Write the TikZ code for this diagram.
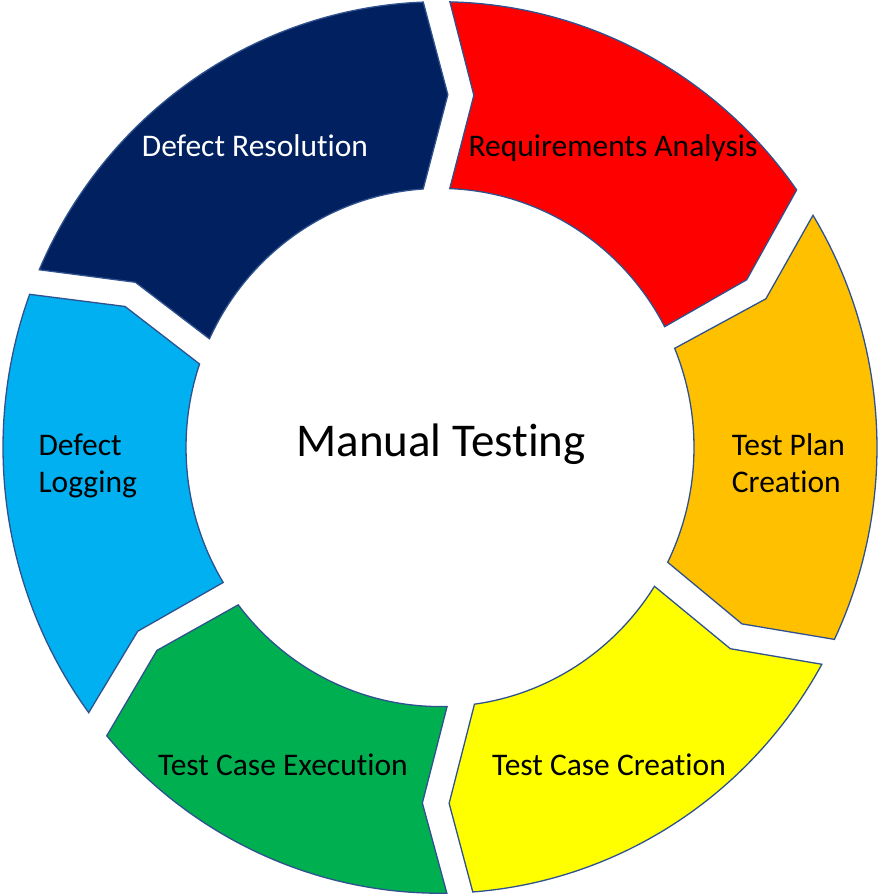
\documentclass[tikz,border=0pt]{standalone}
\usepackage{fontspec}
\setmainfont{Carlito}[Ligatures={NoCommon}]
\definecolor{cNavy}{HTML}{002060}
\definecolor{cRed}{HTML}{FF0000}
\definecolor{cOrange}{HTML}{FFC000}
\definecolor{cYellow}{HTML}{FFFF00}
\definecolor{cGreen}{HTML}{00B050}
\definecolor{cSky}{HTML}{00B0F0}
\definecolor{cEdge}{HTML}{2F528F}
\begin{document}
\begin{tikzpicture}[x=1pt,y=1pt,
  seg/.style={draw=cEdge, line width=1.3pt, line join=miter},
  lbl/.style={font=\fontsize{31.5}{37}\selectfont, inner sep=0pt, text=black},
  title/.style={font=\fontsize{47}{51}\selectfont, inner sep=0pt, text=black}]
\useasboundingbox (0,0) rectangle (878,896);
\begin{scope}[shift={(440,448.5)}, yscale=1.02]
  % Requirements Analysis
  \path[seg, fill=cRed] (88.7:437) arc[start angle=88.7, end angle=35.3, radius=437]
    -- (28.2:348) -- (27.8:254) arc[start angle=27.8, end angle=87.8, radius=254]
    -- (84.4:347) -- cycle;
  % Test Plan Creation
  \path[seg, fill=cOrange] (31.4:437) arc[start angle=31.4, end angle=-25.5, radius=437]
    -- (-29.8:348) -- (-26.3:254) arc[start angle=-26.3, end angle=22.5, radius=254]
    -- (24.1:357) -- cycle;
  % Test Case Creation
  \path[seg, fill=cYellow] (-29.1:437) arc[start angle=-29.1, end angle=-85.7, radius=437]
    -- (-88.5:349) -- (-82.2:254) arc[start angle=-82.2, end angle=-32.4, radius=254]
    -- (-34.2:351) -- cycle;
  % Test Case Execution
  \path[seg, fill=cGreen] (-89.1:437) arc[start angle=-89.1, end angle=-139.7, radius=437]
    -- (-144.9:346) -- (-142.6:254) arc[start angle=-142.6, end angle=-88.4, radius=254]
    -- (-92.9:349) -- cycle;
  % Defect Logging
  \path[seg, fill=cSky] (216.5:437) arc[start angle=216.5, end angle=159.9, radius=437]
    -- (156.3:344) -- (161.2:254) arc[start angle=161.2, end angle=211.4, radius=254]
    -- (210.8:352) -- cycle;
  % Defect Resolution
  \path[seg, fill=cNavy] (156.5:437) arc[start angle=156.5, end angle=92.2, radius=437]
    -- (88.7:346) -- (93.8:254) arc[start angle=93.8, end angle=155.2, radius=254]
    -- (152:345) -- cycle;
\end{scope}
\node[lbl, text=white, anchor=base] (res) at (255,739) {Defect Resolution};
\node[lbl, anchor=base] (req) at (613,739.3) {Requirements Analysis};
\node[lbl, anchor=base west, align=left] (plan) at (731.7,403.3) {Test Plan\\Creation};
\node[lbl, anchor=base] (cre) at (609,120) {Test Case Creation};
\node[lbl, anchor=base] (exe) at (283,120) {Test Case Execution};
\node[lbl, anchor=base west, align=left] (log) at (38.3,403) {Defect\\Logging};
\node[title, anchor=base] (mt) at (441,439.3) {Manual Testing};
\end{tikzpicture}
\end{document}
